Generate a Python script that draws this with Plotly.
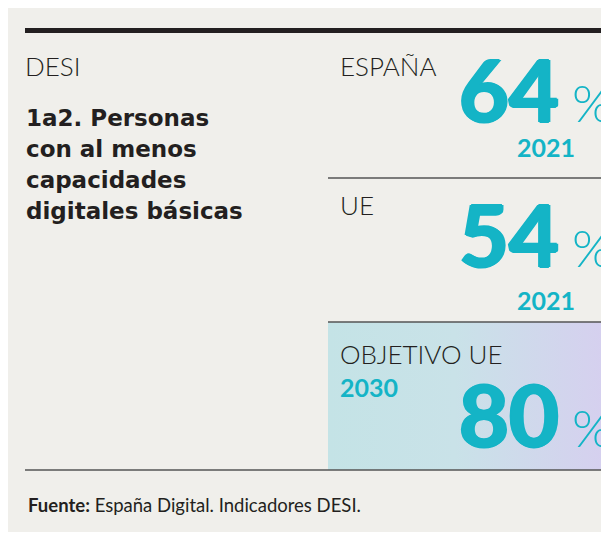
import plotly.graph_objects as go

# ---- data ----
regions = ["ESPAÑA", "UE", "OBJETIVO UE"]
values = [64, 54, 80]
years = ["2021", "2021", "2030"]
header = "DESI"
title_lines = ["1a2. Personas", "con al menos", "capacidades", "digitales básicas"]
source_bold = "Fuente:"
source_text = " España Digital. Indicadores DESI."

OFF = 8  # page body margin
W, H = 601, 524
BG = "#F0EFEB"
CYAN = "#14B4C6"
DARK = "#231F20"
TITLE_FONT = "DejaVu Sans"
BODY_FONT = "Lato"
RIGHT = OFF + W

fig = go.Figure()

# gradient box for target
box_x0, box_x1, box_y0, box_y1 = 328, RIGHT, 322, 470
fig.add_trace(go.Scatter(
    x=[box_x0, box_x1, box_x1, box_x0, box_x0],
    y=[box_y0, box_y0, box_y1, box_y1, box_y0],
    mode="lines", line=dict(width=0), fill="toself",
    fillgradient=dict(type="horizontal",
                      colorscale=[[0, "#C4E3E6"], [0.45, "#C9E2E8"], [1, "#D6CFEF"]]),
    hoverinfo="skip", showlegend=False))

shapes = [
    dict(type="line", xref="x", yref="y", x0=25, x1=RIGHT, y0=30.5, y1=30.5,
         line=dict(color=DARK, width=5)),
    dict(type="line", xref="x", yref="y", x0=328, x1=RIGHT, y0=178, y1=178,
         line=dict(color="#555", width=1.3)),
    dict(type="line", xref="x", yref="y", x0=328, x1=RIGHT, y0=322, y1=322,
         line=dict(color="#555", width=1.3)),
    dict(type="line", xref="x", yref="y", x0=25, x1=RIGHT, y0=470, y1=470,
         line=dict(color="#555", width=1.3)),
]

ann = []
def add(text, x, y, size, color=DARK, family=BODY_FONT, weight="normal",
        xanchor="left", yanchor="middle", shadow="none"):
    ann.append(dict(text=text, x=x, y=y, xref="x", yref="y", showarrow=False,
                    xanchor=xanchor, yanchor=yanchor,
                    font=dict(size=size, color=color, family=family, weight=weight,
                              shadow=shadow)))

thick = f"1.5px 0 0 {CYAN}, -1.5px 0 0 {CYAN}, 0 1px 0 {CYAN}, 0 -1px 0 {CYAN}"

add(header, 23, 66, 26, weight=300)
for i, line in enumerate(title_lines):
    add(line, 24, 118 + i * 31, 23, family=TITLE_FONT, weight="bold")

label_y = [66, 205, 354]
num_y = [88, 233, 413]
pct_y = [102, 247, 427]
year_pos = [(546, 147, "center"), (546, 300, "center"), (338, 387, "left")]
for i in range(3):
    add(regions[i], 338, label_y[i], 26, weight=300)
    add(str(values[i]), 561, num_y[i], 86, color=CYAN, weight="bold",
        xanchor="right", shadow=thick)
    add("%", 570, pct_y[i], 52, color=CYAN, weight=300)
    yx, yy, ya = year_pos[i]
    add(years[i], yx, yy, 25, color=CYAN, weight="bold", xanchor=ya)

add(f"<b>{source_bold}</b>{source_text}", 26, 505, 18.5, weight=400)

fig.update_layout(
    width=W, height=H, margin=dict(l=0, r=0, t=0, b=0),
    paper_bgcolor=BG, plot_bgcolor="rgba(0,0,0,0)",
    xaxis=dict(range=[OFF, RIGHT], visible=False, fixedrange=True),
    yaxis=dict(range=[OFF + H, OFF], visible=False, fixedrange=True),
    shapes=shapes, annotations=ann, showlegend=False)

fig.write_html("out.html", config={"displayModeBar": False})
